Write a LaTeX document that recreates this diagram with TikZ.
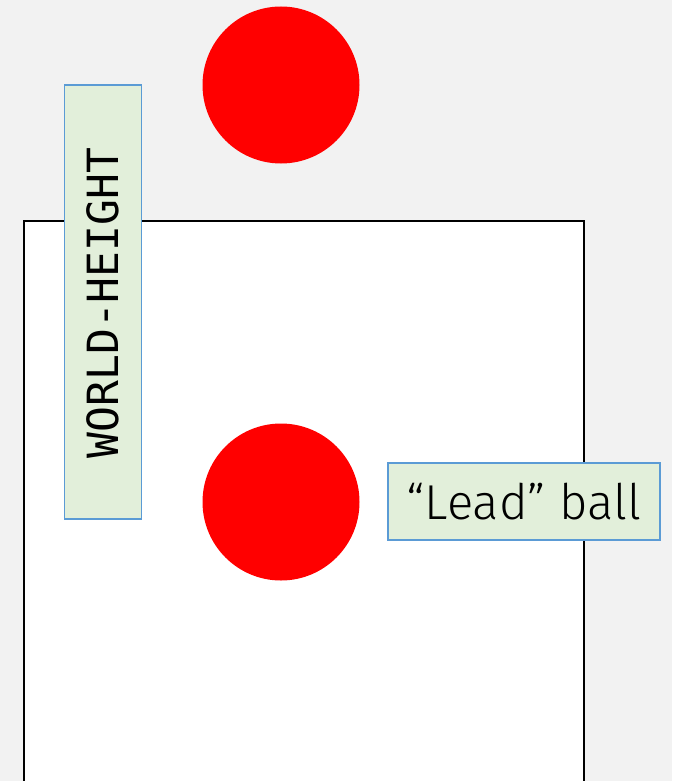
\documentclass[tikz,border=0pt]{standalone}
\usepackage{fontspec}
\setmainfont{Fira Sans}
\setmonofont{DejaVu Sans Mono}
\newfontfamily\lightfont{Fira Sans}[UprightFont=* Light]
\usetikzlibrary{positioning}
\definecolor{bggray}{HTML}{F2F2F2}
\definecolor{labelfill}{HTML}{E2EFDA}
\definecolor{labelline}{HTML}{5B9BD5}

\begin{document}
\begin{tikzpicture}[x=1pt, y=-1pt]
            % Estilos
            \tikzset{ball/.style={circle, fill=red, minimum size=157pt, inner sep=0pt},
                     tag/.style={draw=labelline, line width=1.3pt, fill=labelfill, inner sep=0pt}}

            % Fundo
            \fill[bggray] (0,0) rectangle (672,781);
            \useasboundingbox (0,0) rectangle (672,781);
            \draw[line width=2.2pt, fill=white] (24,800) -- (24,221) -- (584,221) -- (584,800);

            % Bolas
            \node[ball] (top) at (281,85) {};
            \node[ball] (lead) at (281,502) {};

            % Rotulos
            \node[tag, minimum width=77pt, minimum height=434pt] (height) at (103,302)
                {\rotatebox{90}{\fontsize{43}{50}\selectfont\ttfamily WORLD-HEIGHT\kern2pt}};
            \node[tag, minimum width=272pt, minimum height=77pt] (leadtag) at (524,501.5)
                {\fontsize{49}{58}\selectfont\lightfont “Lead” ball};
        \end{tikzpicture}
\end{document}
